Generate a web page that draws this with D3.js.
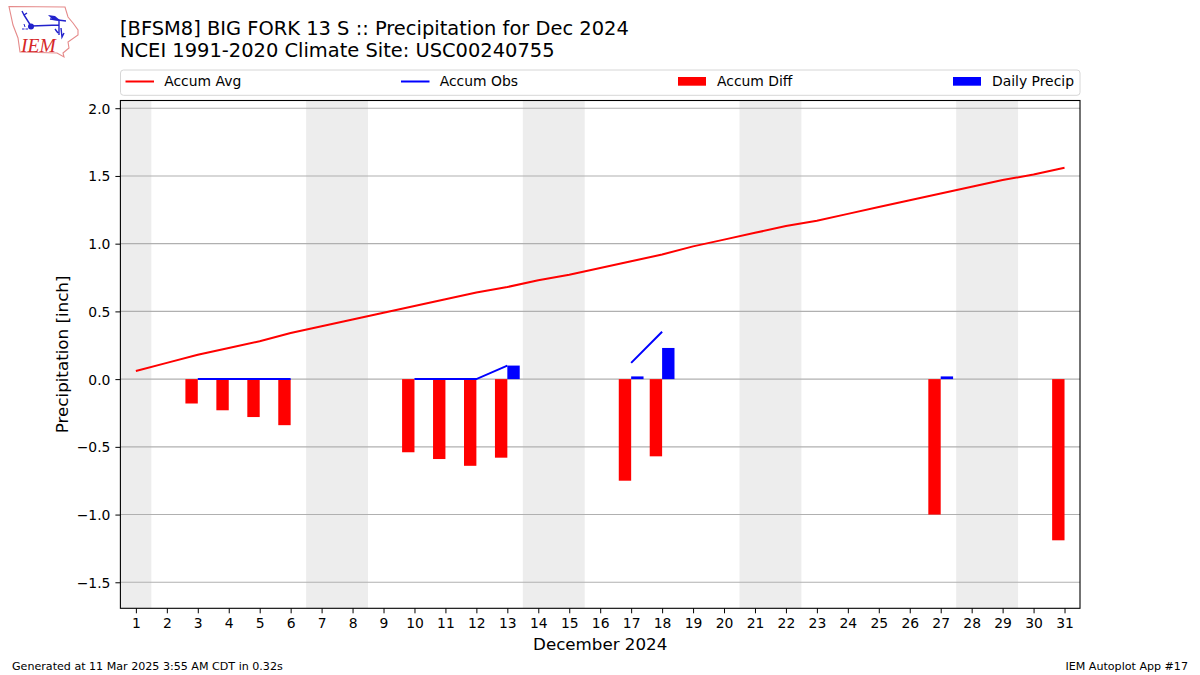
<!DOCTYPE html>
<html>
  <head>
    <meta charset="utf-8">
    <title>Precipitation for Dec 2024</title>
    <script src="https://d3js.org/d3.v7.min.js"></script>
    <style>
      html, body { margin: 0; padding: 0; background: #fff; }
      svg { display: block; }
      text { font-family: "DejaVu Sans", sans-serif; fill: #000; }
      .tick text { font-size: 13.9px; }
    </style>
  </head>
  <body>
    <svg width="1200" height="675"></svg>
    <script>
      const days = d3.range(1, 32);
      const yTicks = [-1.5, -1.0, -0.5, 0.0, 0.5, 1.0, 1.5, 2.0];
      const weekends = [[1, 1], [7, 8], [14, 15], [21, 22], [28, 29]];
      const accumAvg = [0.06, 0.12, 0.18, 0.23, 0.28, 0.34, 0.39, 0.44, 0.49, 0.54, 0.59, 0.64, 0.68, 0.73, 0.77, 0.82,
        0.87, 0.92, 0.98, 1.03, 1.08, 1.13, 1.17, 1.22, 1.27, 1.32, 1.37, 1.42, 1.47, 1.51, 1.56];
      const accumObs = [null, null, 0, 0, 0, 0, null, null, null, 0, 0, 0, 0.10, null, null, null,
        0.12, 0.35, null, null, null, null, null, null, null, null, 0.37, null, null, null, 0.37];
      const accumDiff = [null, null, -0.18, -0.23, -0.28, -0.34, null, null, null, -0.54, -0.59, -0.64, -0.58, null, null, null,
        -0.75, -0.57, null, null, null, null, null, null, null, null, -1.0, null, null, null, -1.19];
      const dailyPrecip = [null, null, 0, 0, 0, 0, null, null, null, 0, 0, 0, 0.10, null, null, null,
        0.02, 0.23, null, null, null, null, null, null, null, null, 0.02, null, null, null, 0];
      const legendItems = [
        { label: 'Accum Avg', color: 'red', kind: 'line' },
        { label: 'Accum Obs', color: 'blue', kind: 'line' },
        { label: 'Accum Diff', color: 'red', kind: 'bar' },
        { label: 'Daily Precip', color: 'blue', kind: 'bar' }
      ];

      const margin = { left: 120.4, right: 120, top: 100.5, bottom: 66.7 };
      const barWidth = 0.4;

      const svg = d3.select('svg');
      const width = +svg.attr('width');
      const height = +svg.attr('height');

      const x = d3.scaleLinear().domain([0.5, 31.5]).range([margin.left, width - margin.right]);
      const y = d3.scaleLinear().domain([-1.692, 2.057]).range([height - margin.bottom, margin.top]);

      // logo
      const logo = svg.append('g');
      logo.append('path')
          .attr('d', 'M9,6.5 L65,7 L68,17 L73,23 L78,30 L78,35 L68,42 L69,48 L63,53 L64,57 L57,53 L20,52 L18,38 L13,25 Z')
          .attr('fill', 'none')
          .attr('stroke', '#e58a8a')
          .attr('stroke-width', 1.1);
      logo.append('path')
          .attr('d', 'M31,26 L59,25 M59,21 L59,35 M31,26 L24,15 M22,11 L24,15 L27,13 M50,19 L66,21 M55,29 L58,33 M61,28 L62,37 L64,33')
          .attr('fill', 'none')
          .attr('stroke', '#2222cc')
          .attr('stroke-width', 1.4);
      logo.append('path')
          .attr('d', 'M48,15 L55,16 L61,21 L53,20 Z')
          .attr('fill', '#2222cc');
      logo.append('circle')
          .attr('cx', 31).attr('cy', 26.5).attr('r', 3)
          .attr('fill', '#2222cc');
      logo.append('path')
          .attr('d', 'M24,24 L25,27 M22,29 L24.5,29 M25.5,29 L28,29')
          .attr('stroke', '#2222cc');
      logo.append('text')
          .attr('x', 21).attr('y', 52)
          .attr('font-size', '19.5px')
          .attr('font-style', 'italic')
          .style('font-family', '"Liberation Serif", serif')
          .style('fill', '#d62728')
          .text('IEM');

      // title
      svg.append('text').attr('x', 120).attr('y', 35).attr('font-size', '19.45px')
          .text('[BFSM8] BIG FORK 13 S :: Precipitation for Dec 2024');
      svg.append('text').attr('x', 120).attr('y', 57).attr('font-size', '19.45px')
          .text('NCEI 1991-2020 Climate Site: USC00240755');

      // weekend shading
      svg.append('g').selectAll('rect').data(weekends)
        .enter().append('rect')
          .attr('x', d => x(d[0] - 0.5))
          .attr('y', margin.top)
          .attr('width', d => x(d[1] + 0.5) - x(d[0] - 0.5))
          .attr('height', height - margin.bottom - margin.top)
          .attr('fill', '#ededed');

      // grid
      svg.append('g').selectAll('line').data(yTicks)
        .enter().append('line')
          .attr('x1', margin.left)
          .attr('x2', width - margin.right)
          .attr('y1', d => y(d))
          .attr('y2', d => y(d))
          .attr('stroke', '#b0b0b0')
          .attr('stroke-width', 1.1);

      // bars
      const diffData = days.map((d, i) => ({ day: d, value: accumDiff[i] })).filter(d => d.value !== null);
      const dailyData = days.map((d, i) => ({ day: d, value: dailyPrecip[i] })).filter(d => d.value);

      svg.append('g').selectAll('rect').data(diffData)
        .enter().append('rect')
          .attr('x', d => x(d.day - barWidth))
          .attr('y', y(0))
          .attr('width', x(barWidth) - x(0))
          .attr('height', d => y(d.value) - y(0))
          .attr('fill', 'red');

      svg.append('g').selectAll('rect').data(dailyData)
        .enter().append('rect')
          .attr('x', d => x(d.day))
          .attr('y', d => y(d.value))
          .attr('width', x(barWidth) - x(0))
          .attr('height', d => y(0) - y(d.value))
          .attr('fill', 'blue');

      // lines
      const line = d3.line()
        .defined(d => d[1] !== null)
        .x(d => x(d[0]))
        .y(d => y(d[1]));

      svg.append('path')
          .attr('d', line(days.map((d, i) => [d, accumAvg[i]])))
          .attr('fill', 'none')
          .attr('stroke', 'red')
          .attr('stroke-width', 2);
      svg.append('path')
          .attr('d', line(days.map((d, i) => [d, accumObs[i]])))
          .attr('fill', 'none')
          .attr('stroke', 'blue')
          .attr('stroke-width', 2);

      // axes
      const xAxis = d3.axisBottom(x).tickValues(days).tickFormat(d3.format('d')).tickSize(5).tickPadding(5);
      const yAxis = d3.axisLeft(y).tickValues(yTicks).tickFormat(d3.format('.1f')).tickSize(5).tickPadding(5);

      const xG = svg.append('g')
          .attr('transform', `translate(0,${height - margin.bottom})`)
          .call(xAxis);
      const yG = svg.append('g')
          .attr('transform', `translate(${margin.left},0)`)
          .call(yAxis);
      xG.select('.domain').remove();
      yG.select('.domain').remove();
      yG.selectAll('.tick text')
          .attr('dy', '0.36em')
          .text(d => d3.format('.1f')(d).replace('-', '\u2212'));

      svg.append('rect')
          .attr('x', margin.left)
          .attr('y', margin.top)
          .attr('width', width - margin.right - margin.left)
          .attr('height', height - margin.bottom - margin.top)
          .attr('fill', 'none')
          .attr('stroke', '#000')
          .attr('stroke-width', 1.1);

      svg.append('text')
          .attr('x', (margin.left + width - margin.right) / 2)
          .attr('y', 649.5)
          .attr('text-anchor', 'middle')
          .attr('font-size', '16.7px')
          .text('December 2024');
      svg.append('text')
          .attr('transform', `translate(67.5,${(margin.top + height - margin.bottom) / 2}) rotate(-90)`)
          .attr('text-anchor', 'middle')
          .attr('font-size', '16.7px')
          .text('Precipitation [inch]');

      // legend
      svg.append('rect')
          .attr('x', 120.5).attr('y', 70)
          .attr('width', 959.5).attr('height', 25.3)
          .attr('rx', 3)
          .attr('fill', '#fff')
          .attr('stroke', '#d6d6d6')
          .attr('stroke-width', 1);

      const legendX = [125.5, 401, 678, 953];
      const legend = svg.append('g').selectAll('g').data(legendItems)
        .enter().append('g')
          .attr('transform', (d, i) => `translate(${legendX[i]},81.5)`);
      legend.filter(d => d.kind === 'line').append('line')
          .attr('x1', 0).attr('x2', 28.5)
          .attr('stroke', d => d.color)
          .attr('stroke-width', 2);
      legend.filter(d => d.kind === 'bar').append('rect')
          .attr('x', 0).attr('y', -4.5)
          .attr('width', 28).attr('height', 8.7)
          .attr('fill', d => d.color);
      legend.append('text')
          .attr('x', d => d.kind === 'bar' ? 39 : 38.7)
          .attr('y', 4.5)
          .attr('font-size', '13.9px')
          .text(d => d.label);

      // footer
      svg.append('text').attr('x', 12).attr('y', 670).attr('font-size', '11.1px')
          .text('Generated at 11 Mar 2025 3:55 AM CDT in 0.32s');
      svg.append('text').attr('x', 1188).attr('y', 670).attr('text-anchor', 'end').attr('font-size', '11.1px')
          .text('IEM Autoplot App #17');
    </script>
  </body>
</html>
